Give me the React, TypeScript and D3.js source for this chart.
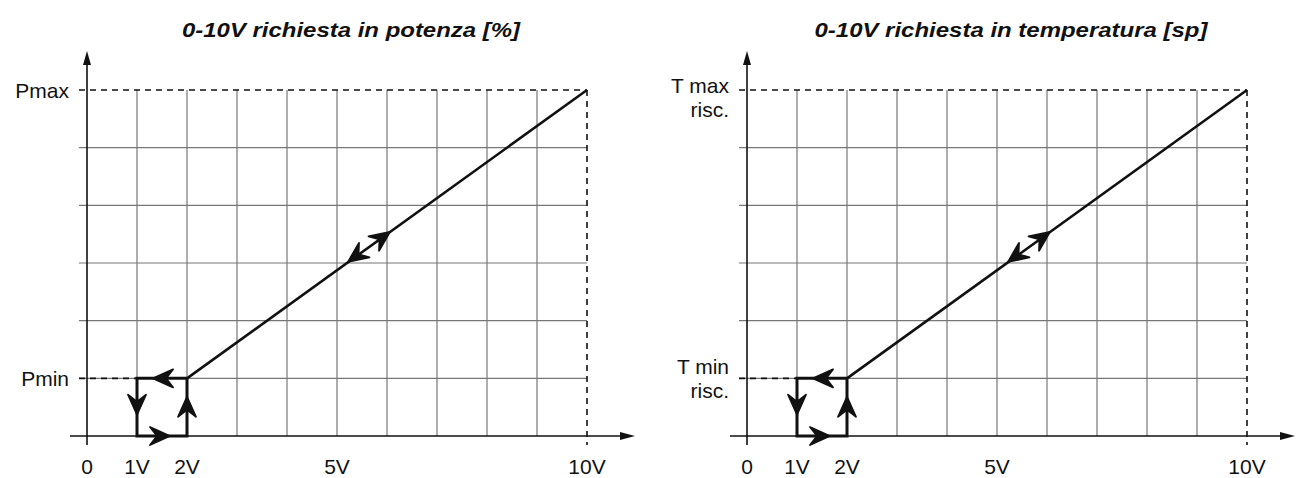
import React from 'react';
import * as d3 from 'd3';

// volts on the x axis, "levels" are grid rows (0 = axis, 1 = min, 6 = max)
const voltTicks = [0, 1, 2, 5, 10];
const voltLabels = ['0', '1V', '2V', '5V', '10V'];
const gridVolts = [1, 2, 3, 4, 5, 6, 7, 8, 9];
const gridLevels = [1, 2, 3, 4, 5];
const minLevel = 1;
const maxLevel = 6;
const maxVolt = 10;

const rampLine: [number, number][] = [[2, 1], [10, 6]];
const hysteresisLoop: [number, number][] = [[2, 1], [1, 1], [1, 0], [2, 0], [2, 1]];

// each arrow: tip point and a point it comes from (gives the direction)
const loopArrows: { tip: [number, number]; from: [number, number] }[] = [
  { tip: [1.32, 1], from: [2, 1] },
  { tip: [1, 0.37], from: [1, 1] },
  { tip: [1.66, 0], from: [1, 0] },
  { tip: [2, 0.68], from: [2, 0] },
];
const rampArrows: { tip: [number, number]; from: [number, number] }[] = [
  { tip: [5.22, 3.02], from: [10, 6] },
  { tip: [6.06, 3.54], from: [2, 1] },
];

const panelTitles = ['0-10V richiesta in potenza [%]', '0-10V richiesta in temperatura [sp]'];
const titleWidths = [338, 393];
const maxLabels = [['Pmax'], ['T max', 'risc.']];
const minLabels = [['Pmin'], ['T min', 'risc.']];

const FONT = '"Liberation Sans", Arial, Helvetica, sans-serif';

const Chevron: React.FC<{ x: number; y: number; angle: number }> = ({ x, y, angle }) => (
  <path
    d="M0,0 L-20,-9 L-13,0 L-20,9 Z"
    fill="#111"
    stroke="#111"
    strokeWidth={1.8}
    strokeLinejoin="round"
    transform={`translate(${x},${y}) rotate(${angle})`}
  />
);

const Panel: React.FC<{ ox: number; idx: number }> = ({ ox, idx }) => {
  const x = d3.scaleLinear().domain([0, maxVolt]).range([ox + 87, ox + 587]);
  const y = d3.scaleLinear().domain([0, maxLevel]).range([436, 90]);
  const line = d3.line<[number, number]>().x(d => x(d[0])).y(d => y(d[1]));

  const arrowAngle = (a: { tip: [number, number]; from: [number, number] }) =>
    (Math.atan2(y(a.tip[1]) - y(a.from[1]), x(a.tip[0]) - x(a.from[0])) * 180) / Math.PI;

  const x0 = x(0);
  const labelRight = ox + 69;

  const renderLabel = (lines: string[], level: number) => {
    const yy = y(level);
    if (lines.length === 1) {
      return (
        <text x={labelRight} y={yy + 7.5} textAnchor="end" fontSize={21}>
          {lines[0]}
        </text>
      );
    }
    const base = level === maxLevel ? yy + 3 : yy - 4;
    return (
      <text textAnchor="end" fontSize={21}>
        {lines.map((t, i) => (
          <tspan key={i} x={labelRight} y={base + i * 24}>{t}</tspan>
        ))}
      </text>
    );
  };

  return (
    <g fontFamily={FONT} fill="#111">
      <text
        x={ox + 351}
        y={37}
        textAnchor="middle"
        fontSize={21}
        fontWeight="bold"
        fontStyle="italic"
        textLength={titleWidths[idx]}
        lengthAdjust="spacingAndGlyphs"
      >
        {panelTitles[idx]}
      </text>

      {/* grid */}
      {gridVolts.map(v => (
        <line key={'v' + v} x1={x(v)} x2={x(v)} y1={y(maxLevel)} y2={y(0)} stroke="#777" strokeWidth={1.2} />
      ))}
      {gridLevels.map(l => (
        <line key={'h' + l} x1={x0 - 8} x2={x(maxVolt)} y1={y(l)} y2={y(l)} stroke="#777" strokeWidth={1.2} />
      ))}

      {/* dashed max / min guides */}
      <line x1={x0 - 8} x2={x(maxVolt)} y1={y(maxLevel)} y2={y(maxLevel)} stroke="#111" strokeWidth={1.6} strokeDasharray="6,5" />
      <line x1={x(maxVolt)} x2={x(maxVolt)} y1={y(maxLevel)} y2={y(0) + 9} stroke="#111" strokeWidth={1.6} strokeDasharray="6,5" />
      <line x1={x0 - 8} x2={x(1)} y1={y(minLevel)} y2={y(minLevel)} stroke="#111" strokeWidth={1.6} strokeDasharray="6,5" />

      {/* axes */}
      <line x1={x0 - 17} x2={ox + 622} y1={y(0)} y2={y(0)} stroke="#111" strokeWidth={1.6} />
      <path d={`M${ox + 635},${y(0)} L${ox + 620},${y(0) - 4} L${ox + 620},${y(0) + 4} Z`} fill="#111" />
      <line x1={x0} x2={x0} y1={y(0) + 9} y2={62} stroke="#111" strokeWidth={1.6} />
      <path d={`M${x0},51 L${x0 - 4},65 L${x0 + 4},65 Z`} fill="#111" />

      {/* ramp and hysteresis */}
      <path d={line(rampLine) || ''} fill="none" stroke="#111" strokeWidth={2.6} />
      <path d={line(hysteresisLoop) || ''} fill="none" stroke="#111" strokeWidth={3} strokeLinejoin="miter" />
      {[...loopArrows, ...rampArrows].map((a, i) => (
        <Chevron key={i} x={x(a.tip[0])} y={y(a.tip[1])} angle={arrowAngle(a)} />
      ))}

      {/* tick labels */}
      {voltTicks.map((v, i) => (
        <text key={v} x={x(v)} y={474} textAnchor="middle" fontSize={21}>
          {voltLabels[i]}
        </text>
      ))}
      {renderLabel(maxLabels[idx], maxLevel)}
      {renderLabel(minLabels[idx], minLevel)}
    </g>
  );
};

export default function App() {
  return (
    <svg
      width={1300}
      height={478}
      style={{ position: 'absolute', left: 0, top: 0, background: '#fff' }}
    >
      <rect width={1300} height={478} fill="#fff" />
      <Panel ox={0} idx={0} />
      <Panel ox={660} idx={1} />
    </svg>
  );
}
